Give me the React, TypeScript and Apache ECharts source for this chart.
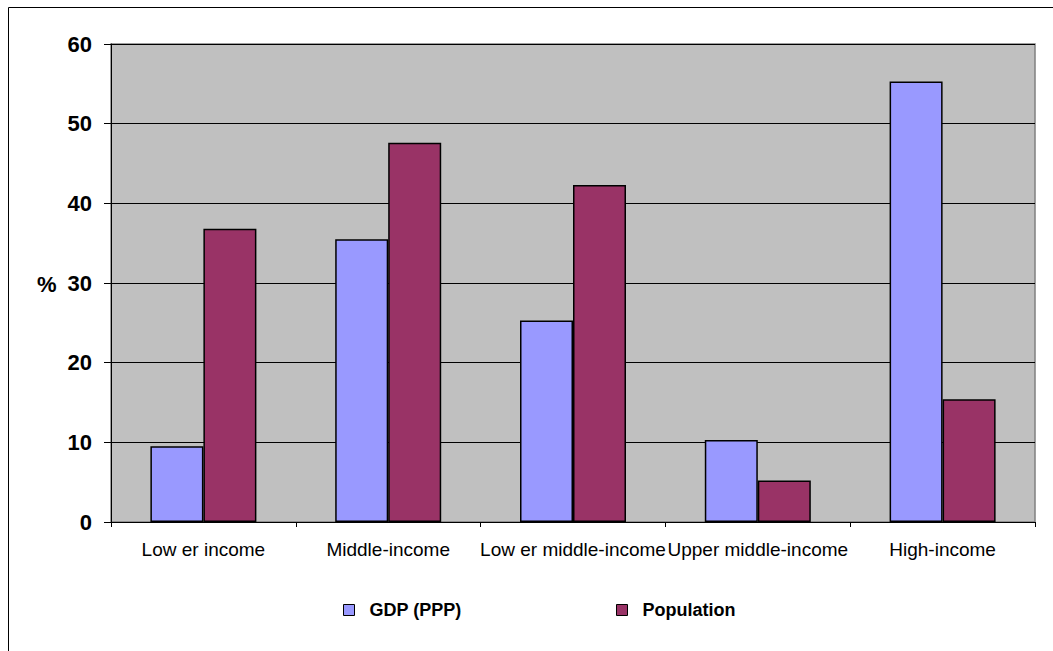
import React, { useEffect, useRef } from "react";
import * as echarts from "echarts";

const categories = ["Low er income", "Middle-income", "Low er middle-income", "Upper middle-income", "High-income"];
const gdpValues = [9.5, 35.5, 25.3, 10.3, 55.3];
const populationValues = [36.8, 47.6, 42.3, 5.2, 15.4];
const seriesNames = ["GDP (PPP)", "Population"];
const yTicks = { min: 0, max: 60, interval: 10 };

const FONT = "'Liberation Sans', Arial, sans-serif";

const legendCommon = {
  top: 601,
  padding: 0,
  itemWidth: 11,
  itemHeight: 11,
  icon: "rect",
  itemStyle: { borderColor: "#000", borderWidth: 1 },
  textStyle: { fontFamily: FONT, fontWeight: "bold", fontSize: 18, color: "#000", padding: [0, 0, 0, 10] },
};

export default function App() {
  const ref = useRef<HTMLDivElement>(null);
  useEffect(() => {
    if (!ref.current) return;
    const chart = echarts.init(ref.current, undefined, { renderer: "svg" });
    chart.setOption({
      animation: false,
      backgroundColor: "#ffffff",
      grid: {
        left: 111,
        top: 44,
        right: 18,
        bottom: 129,
        show: true,
        backgroundColor: "#C0C0C0",
        borderColor: "#808080",
        borderWidth: 1.5,
      },
      graphic: [
        {
          type: "rect",
          shape: { x: 8.5, y: 7.5, width: 1100, height: 700 },
          style: { fill: "none", stroke: "#000", lineWidth: 1 },
          silent: true,
          z: 0,
        },
        {
          type: "text",
          x: 37,
          y: 284,
          style: { text: "%", font: `bold 22px ${FONT}`, fill: "#000", verticalAlign: "middle" },
        },
      ],
      legend: [
        { ...legendCommon, left: 343, data: [seriesNames[0]] },
        { ...legendCommon, left: 616, data: [seriesNames[1]] },
      ],
      xAxis: {
        type: "category",
        data: categories,
        boundaryGap: true,
        axisLine: { lineStyle: { color: "#000", width: 1 } },
        axisTick: { show: true, length: 5, lineStyle: { color: "#000" } },
        axisLabel: { fontFamily: FONT, fontSize: 19, color: "#000", margin: 18, interval: 0 },
        splitLine: { show: false },
      },
      yAxis: {
        type: "value",
        min: yTicks.min,
        max: yTicks.max,
        interval: yTicks.interval,
        axisLine: { show: true, lineStyle: { color: "#000", width: 1 } },
        axisTick: { show: true, length: 7, lineStyle: { color: "#000" } },
        axisLabel: { fontFamily: FONT, fontSize: 22, fontWeight: "bold", color: "#000", margin: 19 },
        splitLine: { show: true, lineStyle: { color: "#000", width: 1 } },
      },
      series: [
        {
          name: seriesNames[0],
          type: "bar",
          data: gdpValues,
          barWidth: 53,
          barGap: "0%",
          itemStyle: { color: "#9999FF", borderColor: "#000", borderWidth: 1.5 },
        },
        {
          name: seriesNames[1],
          type: "bar",
          data: populationValues,
          barWidth: 53,
          barGap: "0%",
          itemStyle: { color: "#993366", borderColor: "#000", borderWidth: 1.5 },
        },
      ],
    });
    return () => chart.dispose();
  }, []);
  return <div ref={ref} style={{ position: "fixed", left: 0, top: 0, width: 1053, height: 651 }} />;
}
